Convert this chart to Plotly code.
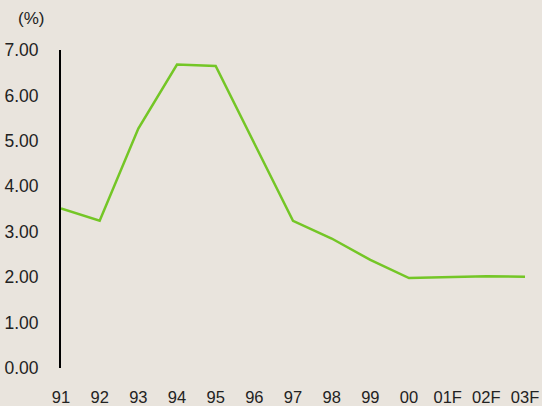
import plotly.graph_objects as go

years = ["91", "92", "93", "94", "95", "96", "97", "98", "99", "00", "01F", "02F", "03F"]
rates = [3.51, 3.24, 5.27, 6.68, 6.65, 4.95, 3.24, 2.85, 2.38, 1.98, 2.00, 2.02, 2.01]
ytick_vals = [0, 1, 2, 3, 4, 5, 6, 7]
ytick_text = ["0.00", "1.00", "2.00", "3.00", "4.00", "5.00", "6.00", "7.00"]

bg = "#e9e4dd"
font = dict(family="Liberation Sans, Arial, sans-serif", size=16, color="#222222")

L, R, T, B = 61, 17, 50, 38
W, H = 542, 406

fig = go.Figure()
fig.add_trace(go.Scatter(
    x=years, y=rates, mode="lines",
    line=dict(color="#74c626", width=2.5),
    cliponaxis=False, hoverinfo="skip",
))

fig.update_layout(
    width=W, height=H,
    margin=dict(l=L, r=R, t=T, b=B),
    paper_bgcolor=bg, plot_bgcolor=bg,
    font=font, showlegend=False,
    xaxis=dict(type="category", range=[0, 12], showgrid=False, zeroline=False,
               showline=False, ticks="", ticklabelstandoff=17, automargin=False,
               tickfont=dict(font, size=16.5)),
    yaxis=dict(range=[0, 7], tickvals=ytick_vals, ticktext=ytick_text,
               showgrid=False, zeroline=False, showline=True, linecolor="#000000",
               linewidth=2, ticks="", ticklabelstandoff=17, automargin=False,
               tickfont=dict(font, size=17.5)),
    annotations=[dict(text="(%)", x=(31 - L) / (W - L - R), y=1 + (T - 18) / (H - T - B),
                      xref="paper", yref="paper", xanchor="center", yanchor="middle",
                      showarrow=False, font=dict(font, size=17))],
)

fig.write_html("out.html",
               config={"displayModeBar": False, "staticPlot": True},
               post_script="document.body.style.margin='0';document.body.style.overflow='hidden';document.body.style.background='" + bg + "';")
